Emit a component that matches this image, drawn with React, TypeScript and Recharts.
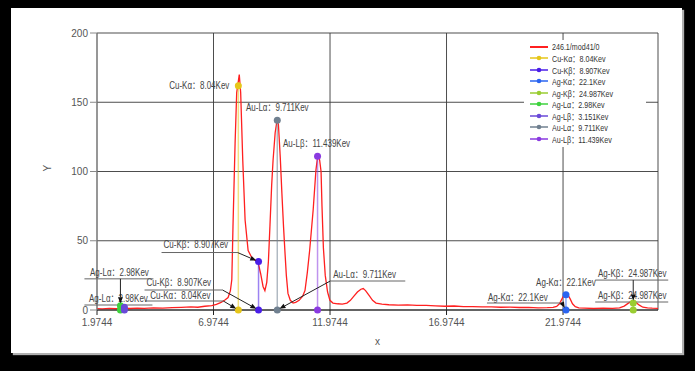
import { LineChart, Line, XAxis, YAxis, CartesianGrid } from 'recharts';

// spectrum 246.1/mod41/0 (keV vs counts)
const specKev = [
  1.9744, 2.2, 2.5, 2.8, 3.1, 3.4, 3.7, 4.0, 4.4, 4.8, 5.2, 5.6, 6.0, 6.3, 6.6, 6.9, 7.1, 7.3, 7.45, 7.6,
  7.7, 7.76, 7.81, 7.9, 7.97, 8.08, 8.14, 8.23, 8.33, 8.46, 8.61, 8.75, 8.88, 9.0, 9.1, 9.18, 9.26, 9.33, 9.4, 9.47,
  9.53, 9.62, 9.7, 9.76, 9.84, 9.91, 9.98, 10.04, 10.1, 10.17, 10.27, 10.39, 10.5, 10.65, 10.8, 10.9, 11.0, 11.1, 11.25, 11.37,
  11.46, 11.53, 11.59, 11.63, 11.69, 11.77, 11.87, 11.97, 12.1, 12.3, 12.5, 12.7, 12.85, 13.0, 13.15, 13.3, 13.4, 13.5, 13.65, 13.8,
  13.95, 14.2, 14.5, 14.9, 15.3, 15.7, 16.1, 16.5, 16.9, 17.3, 17.7, 18.1, 18.5, 18.9, 19.3, 19.7, 20.1, 20.5, 20.9, 21.3,
  21.55, 21.7, 21.82, 21.93, 22.02, 22.1, 22.18, 22.28, 22.38, 22.5, 22.65, 22.9, 23.3, 23.7, 24.1, 24.4, 24.6, 24.75, 24.88, 24.99,
  25.1, 25.25, 25.4, 25.6, 25.8, 26.05,
];
const specCounts = [
  1.0, 0.8, 1.2, 0.9, 1.4, 1.1, 1.3, 1.2, 1.6, 1.4, 1.7, 1.9, 2.2, 2.0, 2.7, 3.2, 4.0, 5.5, 7, 9,
  14, 22, 60, 120, 157, 170, 157, 108, 65, 43, 38, 36, 35, 26, 17, 14, 20, 35, 62, 90,
  108, 128, 137, 134, 110, 84, 60, 42, 25, 12, 7, 5, 5.5, 7, 10, 14, 27, 43, 72, 101,
  113, 108, 100, 75, 45, 25, 13, 7, 5, 4.5, 4.2, 5, 7, 10, 13, 15, 15.5, 14, 10.5, 7,
  5, 4.2, 3.8, 3.5, 3.7, 3.3, 3.4, 3.0, 2.7, 2.9, 2.4, 2.5, 2.2, 2.3, 2.0, 2.1, 1.8, 1.9, 1.6, 1.7,
  1.9, 2.6, 4.5, 8, 11, 12, 11, 8, 4.5, 2.4, 1.5, 1.3, 1.1, 1.3, 1.2, 1.6, 2.8, 4.6, 6, 6.5,
  5.5, 3.5, 2.0, 1.5, 1.3, 1.2,
];
const spectrumName = '246.1/mod41/0';

// characteristic lines
const lineNames = ['Cu-Kα', 'Cu-Kβ', 'Ag-Kα', 'Ag-Kβ', 'Ag-Lα', 'Ag-Lβ', 'Au-Lα', 'Au-Lβ'];
const lineKev = [8.04, 8.907, 22.1, 24.987, 2.98, 3.151, 9.711, 11.439];
const lineKevText = ['8.04', '8.907', '22.1', '24.987', '2.98', '3.151', '9.711', '11.439'];
const lineTops = [162, 35, 11, 5, 3, 2, 137, 111];

const xTicks = [1.9744, 6.9744, 11.9744, 16.9744, 21.9744];
const yTicks = [0, 50, 100, 150, 200];

// styles
const dotColors = ['#e6c619', '#4a1ee8', '#2a64f0', '#9acd32', '#3ed23e', '#6a4ad8', '#708090', '#8a3ae0'];
const font = '"Liberation Sans", Arial, "Noto Sans CJK SC", sans-serif';

type Callout = {
  anchor: 'start' | 'middle' | 'end';
  tx: number;
  ty: number;
  u?: [number, number, number];
  lead?: number;
} | null;

// [base point label, top point label], offsets in px from the point
const callouts: Record<string, Callout[]> = {
  'Cu-Kα': [
    { anchor: 'start', tx: -88, ty: -14, u: [-93, -15, -9], lead: -15 },
    { anchor: 'end', tx: -9, ty: 0 },
  ],
  'Cu-Kβ': [
    { anchor: 'start', tx: -112, ty: -27, u: [-114, -36, -20], lead: -36 },
    { anchor: 'start', tx: -95, ty: -17, u: [-97, -21, -9], lead: -21 },
  ],
  'Ag-Kα': [
    { anchor: 'start', tx: -78, ty: -12, u: [-79, -4, -7], lead: -4 },
    { anchor: 'middle', tx: 0, ty: -12 },
  ],
  'Ag-Kβ': [
    { anchor: 'middle', tx: -1, ty: -14, u: [-38, 35, -8] },
    { anchor: 'middle', tx: -1, ty: -29, u: [-38, 35, -23], lead: 0 },
  ],
  'Ag-Lα': [
    { anchor: 'middle', tx: -2, ty: -11, u: [-36, 32, -5] },
    { anchor: 'middle', tx: -1, ty: -33, u: [-36, 33, -27], lead: 0 },
  ],
  'Ag-Lβ': [null, null],
  'Au-Lα': [
    { anchor: 'start', tx: 56, ty: -35, u: [53, 128, -29], lead: 53 },
    { anchor: 'middle', tx: 0, ty: -13 },
  ],
  'Au-Lβ': [null, { anchor: 'middle', tx: -1, ty: -13 }],
};

const spectrum = specKev.map((x, i) => ({ x, y: specCounts[i] }));
const lineSeries = lineNames.map((name, i) => ({
  name,
  label: `${name}：${lineKevText[i]}Kev`,
  color: dotColors[i],
  data: [
    { x: lineKev[i], y: 0 },
    { x: lineKev[i], y: lineTops[i] },
  ],
}));

const Arrow = ({ x1, y1, x2, y2 }: { x1: number; y1: number; x2: number; y2: number }) => {
  const dx = x2 - x1;
  const dy = y2 - y1;
  const len = Math.sqrt(dx * dx + dy * dy) || 1;
  const ux = dx / len;
  const uy = dy / len;
  const tipX = x2 - ux * 2.5;
  const tipY = y2 - uy * 2.5;
  const bx = tipX - ux * 6;
  const by = tipY - uy * 6;
  return (
    <g>
      <line x1={x1} y1={y1} x2={bx} y2={by} stroke="#222" strokeWidth={1} />
      <polygon
        points={`${tipX},${tipY} ${bx - uy * 2.5},${by + ux * 2.5} ${bx + uy * 2.5},${by - ux * 2.5}`}
        fill="#111"
      />
    </g>
  );
};

const renderMark = (s: (typeof lineSeries)[number]) => (p: any) => {
  const { cx, cy, index } = p;
  const c = callouts[s.name][index];
  return (
    <g key={`${s.name}-${index}`}>
      <circle cx={cx} cy={cy} r={3.5} fill={s.color} stroke="none" />
      {c && (
        <g>
          <text
            transform={`translate(${cx + c.tx},${cy + c.ty}) scale(0.8,1)`}
            textAnchor={c.anchor}
            dominantBaseline="central"
            fontSize={10}
            fontFamily={font}
            fill="#444"
          >
            {s.label}
          </text>
          {c.u && (
            <line x1={cx + c.u[0]} x2={cx + c.u[1]} y1={cy + c.u[2]} y2={cy + c.u[2]} stroke="#666" strokeWidth={1} />
          )}
          {c.u && c.lead !== undefined && (
            <Arrow x1={cx + c.lead} y1={cy + c.u[2]} x2={cx} y2={cy} />
          )}
        </g>
      )}
    </g>
  );
};

const LegendRow = ({ color, text, dot }: { color: string; text: string; dot: boolean }) => (
  <div style={{ display: 'flex', alignItems: 'center', height: 11.5, whiteSpace: 'nowrap' }}>
    <svg width={20} height={10} style={{ flex: 'none' }}>
      <line x1={1} x2={19} y1={5} y2={5} stroke={color} strokeWidth={dot ? 1.5 : 2} />
      {dot && <circle cx={10} cy={5} r={2.3} fill={color} />}
    </svg>
    <span style={{ marginLeft: 3, display: 'inline-block', transform: 'scaleX(0.75)', transformOrigin: 'left center' }}>
      {text}
    </span>
  </div>
);

const LegendBox = () => (
  <div
    style={{
      position: 'absolute',
      left: 524,
      top: 40,
      width: 122,
      height: 107,
      paddingLeft: 5,
      paddingTop: 1,
      boxSizing: 'border-box',
      background: '#fff',
      fontFamily: font,
      fontSize: 9.5,
      color: '#333',
      overflow: 'hidden',
    }}
  >
    <LegendRow color="#ff2020" text={spectrumName} dot={false} />
    {lineSeries.map((s) => (
      <LegendRow key={s.name} color={s.color} text={s.label} dot />
    ))}
  </div>
);

export default function App() {
  return (
    <div style={{ position: 'absolute', left: 0, top: 0, width: 695, height: 371, background: '#000', overflow: 'hidden' }}>
      <div
        style={{
          position: 'absolute',
          left: 11,
          top: 8,
          width: 671,
          height: 345,
          background: '#fff',
          boxShadow: '2px 2px 1px #b0b0b0',
        }}
      />
      <div style={{ position: 'absolute', left: 0, top: 0 }}>
        <LineChart width={695} height={371} margin={{ top: 33, right: 37, left: 37, bottom: 21 }}>
          <CartesianGrid stroke="#3a3a3a" strokeOpacity={0.9} />
          <XAxis
            dataKey="x"
            type="number"
            domain={[1.9744, 26.05]}
            ticks={xTicks}
            allowDuplicatedCategory={false}
            height={40}
            stroke="#222"
            tickSize={5}
            tickMargin={4}
            tick={{ fontSize: 10, fill: '#555', fontFamily: font }}
            label={{ value: 'x', position: 'insideBottom', offset: 5, fontSize: 10, fill: '#555', fontFamily: font }}
          />
          <YAxis
            type="number"
            domain={[0, 200]}
            ticks={yTicks}
            width={60}
            stroke="#888"
            tickSize={7}
            tickMargin={2}
            tick={{ fontSize: 10, fill: '#555', fontFamily: font }}
            label={{ value: 'Y', angle: -90, position: 'insideLeft', offset: 10, fontSize: 10, fill: '#555', fontFamily: font }}
          />
          <Line
            data={spectrum}
            dataKey="y"
            name={spectrumName}
            type="linear"
            stroke="#ff2020"
            strokeWidth={1.3}
            dot={false}
            isAnimationActive={false}
          />
          {lineSeries.map((s) => (
            <Line
              key={s.name}
              data={s.data}
              dataKey="y"
              name={s.label}
              type="linear"
              stroke={s.color}
              strokeOpacity={0.55}
              strokeWidth={1.5}
              dot={renderMark(s)}
              activeDot={false}
              isAnimationActive={false}
            />
          ))}
        </LineChart>
      </div>
      <LegendBox />
    </div>
  );
}
